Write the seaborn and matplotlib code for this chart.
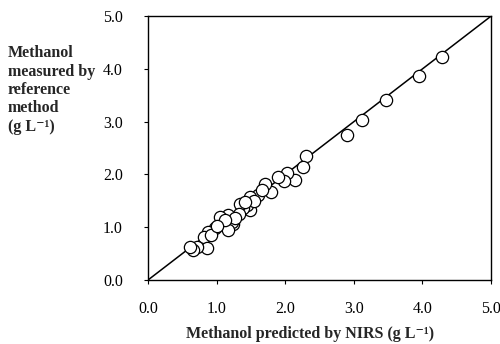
import matplotlib
matplotlib.use("Agg")
import matplotlib.pyplot as plt
import seaborn as sns
import pandas as pd

# ---------------- DATA ----------------
predicted = [4.29, 3.95, 3.47, 3.12, 2.90, 2.31, 2.26, 2.14, 2.03, 1.98,
             1.90, 1.80, 1.71, 1.61, 1.49, 1.48, 1.44, 1.39, 1.34, 1.32,
             1.24, 1.22, 1.17, 1.09, 1.05, 1.16, 0.98, 0.88, 0.81, 0.86,
             0.71, 0.66, 0.61, 1.55, 1.27, 1.12, 1.42, 0.92, 1.66, 1.00]
measured = [4.23, 3.86, 3.41, 3.04, 2.75, 2.35, 2.15, 1.89, 2.02, 1.88,
            1.95, 1.67, 1.82, 1.61, 1.58, 1.33, 1.42, 1.36, 1.45, 1.26,
            1.07, 1.10, 1.24, 1.06, 1.20, 0.95, 0.98, 0.91, 0.81, 0.60,
            0.62, 0.57, 0.62, 1.50, 1.18, 1.13, 1.48, 0.86, 1.70, 1.03]
ident_line = [0.0, 5.0]
ticks = [0.0, 1.0, 2.0, 3.0, 4.0, 5.0]
tick_labels = ["0.0", "1.0", "2.0", "3.0", "4.0", "5.0"]

df = pd.DataFrame({"pred": predicted, "meas": measured})

# ---------------- STYLE ----------------
sns.set_theme(style="ticks")
plt.rcParams["font.family"] = ["Liberation Serif", "DejaVu Serif"]

fig = plt.figure(figsize=(5.0, 3.44), dpi=100)
ax = fig.add_axes([0.296, 0.186, 0.686, 0.767])

ax.plot(ident_line, ident_line, color="black", lw=1.1, zorder=2)
sns.scatterplot(data=df, x="pred", y="meas", ax=ax, s=78,
                facecolor="white", edgecolor="black", linewidth=0.9,
                zorder=3, legend=False)

ax.set_xlim(0, 5)
ax.set_ylim(0, 5)
ax.set_xticks(ticks)
ax.set_yticks(ticks)
ax.set_xticklabels(tick_labels)
ax.set_yticklabels(tick_labels)
ax.tick_params(axis="both", direction="out", length=3, width=0.8,
               labelsize=11.5, colors="black")
ax.tick_params(axis="x", pad=12)
ax.tick_params(axis="y", pad=15)

for sp in ax.spines.values():
    sp.set_visible(True)
    sp.set_color("black")
    sp.set_linewidth(1.0)

unit = "(g L\u207b\u00b9)"
ax.set_xlabel("Methanol predicted by NIRS " + unit,
              fontsize=11.5, fontweight="bold", va="top")
ax.xaxis.set_label_coords(0.472, -0.175)
ax.set_ylabel("Methanol\nmeasured by\nreference\nmethod\n" + unit,
              fontsize=11.5, fontweight="bold", rotation=0,
              ha="left", va="top", linespacing=1.2)
ax.yaxis.set_label_coords(-0.408, 0.89)

fig.savefig("out.png", dpi=100, facecolor="white")
